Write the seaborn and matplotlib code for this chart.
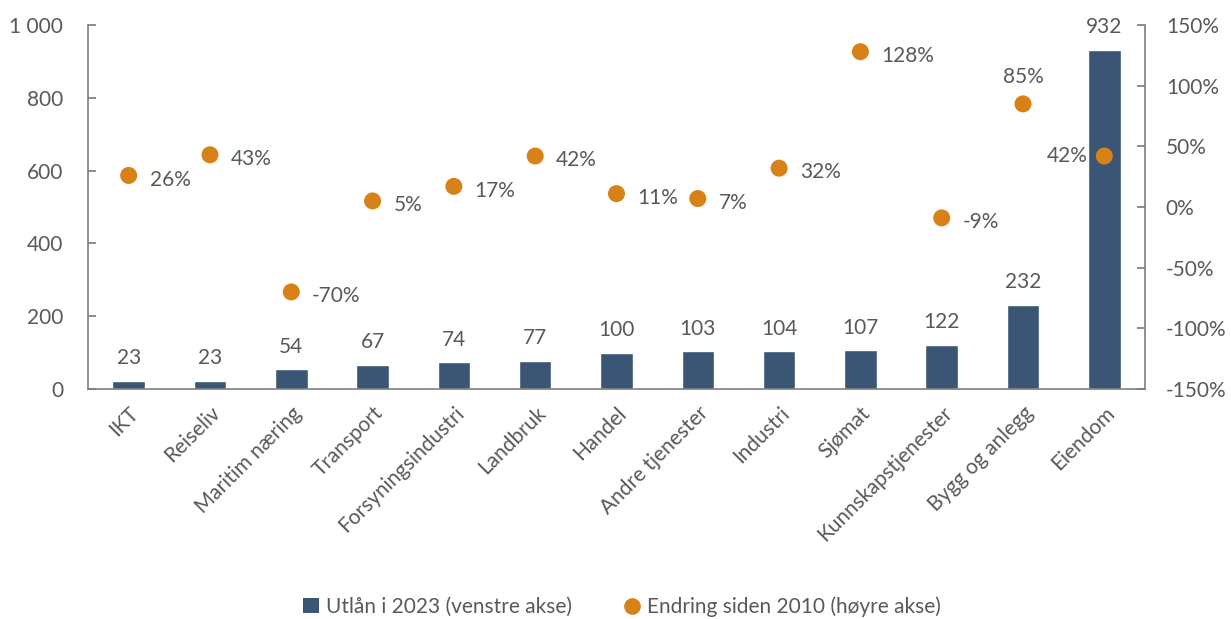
import matplotlib
matplotlib.use("Agg")
import matplotlib.pyplot as plt
import seaborn as sns
import pandas as pd
from matplotlib.ticker import FuncFormatter
from matplotlib.lines import Line2D
from matplotlib.patches import Patch

categories = ["IKT", "Reiseliv", "Maritim næring", "Transport", "Forsyningsindustri",
              "Landbruk", "Handel", "Andre tjenester", "Industri", "Sjømat",
              "Kunnskapstjenester", "Bygg og anlegg", "Eiendom"]
utlan_2023 = [23, 23, 54, 67, 74, 77, 100, 103, 104, 107, 122, 232, 932]
endring_pct = [26, 43, -70, 5, 17, 42, 11, 7, 32, 128, -9, 85, 42]

bar_label = "Utlån i 2023 (venstre akse)"
dot_label = "Endring siden 2010 (høyre akse)"

sns.set_theme(style="white")
plt.rcParams['font.family'] = ['Lato', 'DejaVu Sans']
txt = "#595959"
bar_color = "#3B5674"
dot_color = "#D98119"
fs = 15

df = pd.DataFrame({"cat": categories, "val": utlan_2023, "pct": endring_pct})

fig = plt.figure(figsize=(12.31, 6.19), dpi=100)
ax = fig.add_axes([0.0715, 0.3716, 0.8586, 0.588])
sns.barplot(data=df, x="cat", y="val", color=bar_color, width=0.4, ax=ax,
            saturation=1, order=categories)
ax.set_ylim(0, 1000)
ax.set_yticks(range(0, 1001, 200))
ax.yaxis.set_major_formatter(FuncFormatter(lambda v, p: f"{int(v):,}".replace(",", " ")))
ax.set_xlabel("")
ax.set_ylabel("")
for i, v in enumerate(utlan_2023):
    ax.annotate(f"{v}", (i, v), xytext=(0, 9), textcoords="offset points",
                ha="center", va="bottom", fontsize=fs, color=txt)

ax2 = ax.twinx()
sns.scatterplot(data=df, x="cat", y="pct", color=dot_color, s=150, edgecolor="none",
                ax=ax2, zorder=5)
ax2.set_ylim(-150, 150)
ax2.set_yticks(range(-150, 151, 50))
ax2.yaxis.set_major_formatter(FuncFormatter(lambda v, p: f"{int(v)}%"))
ax2.set_ylabel("")
ax2.set_xlabel("")
for i, p in enumerate(endring_pct):
    if categories[i] == "Bygg og anlegg":
        ax2.annotate(f"{p}%", (i, p), xytext=(0, 12), textcoords="offset points",
                     ha="center", va="bottom", fontsize=fs, color=txt)
    elif categories[i] == "Eiendom":
        ax2.annotate(f"{p}%", (i, p), xytext=(-12, 0), textcoords="offset points",
                     ha="right", va="center", fontsize=fs, color=txt)
    else:
        ax2.annotate(f"{p}%", (i, p), xytext=(15, -3), textcoords="offset points",
                     ha="left", va="center", fontsize=fs, color=txt)

ax.set_xlim(-0.5, len(categories) - 0.5)
for a in (ax, ax2):
    for s in a.spines.values():
        s.set_visible(False)
ax.spines["left"].set_visible(True)
ax.spines["bottom"].set_visible(True)
ax2.spines["right"].set_visible(True)
for s in (ax.spines["left"], ax.spines["bottom"], ax2.spines["right"]):
    s.set_color("#7F7F7F")
    s.set_linewidth(1.2)

ax.tick_params(axis="y", direction="in", length=6, color="#7F7F7F", labelsize=fs,
               labelcolor=txt, left=True, pad=18)
ax2.tick_params(axis="y", direction="in", length=6, color="#7F7F7F", labelsize=fs,
                labelcolor=txt, right=True, pad=15)
ax.tick_params(axis="x", bottom=False, labelsize=fs, labelcolor=txt, pad=4)
for lab in ax.get_xticklabels():
    lab.set_rotation(45)
    lab.set_ha("right")
    lab.set_rotation_mode("anchor")
for lab in ax.get_yticklabels():
    lab.set_ha("right")
ax2.grid(False)
ax.grid(False)

handles = [Patch(facecolor=bar_color, edgecolor="none", label=bar_label),
           Line2D([0], [0], marker="o", linestyle="none", markerfacecolor=dot_color,
                  markeredgecolor="none", markersize=12, label=dot_label)]
fig.legend(handles=handles, loc="center", bbox_to_anchor=(0.505, 0.02), ncol=2,
           frameon=False, fontsize=fs, labelcolor=txt, handlelength=0.8,
           handletextpad=0.3, columnspacing=2.5)

fig.savefig("out.png", dpi=100)
